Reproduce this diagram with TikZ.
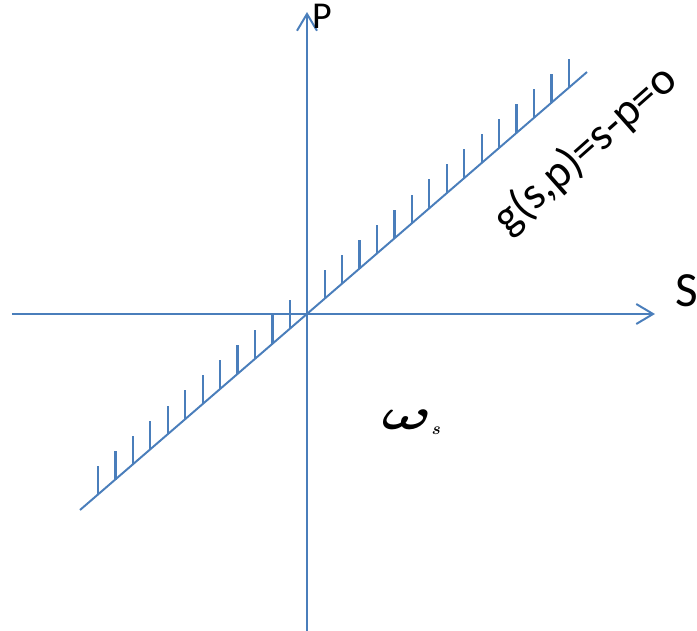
\documentclass[tikz,border=0pt]{standalone}
\usepackage{amsmath}
\usepackage{fontspec}
\setmainfont{Carlito}
\usepackage{graphicx}
\usepackage{tikz}
\usetikzlibrary{arrows.meta}
\definecolor{axisblue}{RGB}{74,126,187}
\tikzset{axis/.style={axisblue,line width=1.4pt},
  hatch/.style={axisblue,line width=1.6pt},
  axlabel/.style={inner sep=0pt,text=black}}

\begin{document}
\begin{tikzpicture}[>={Straight Barb[length=4.2mm,width=5mm]},line join=round]
\useasboundingbox (-7.675,-7.9) rectangle (9.75,7.85);
% --- axes S and P
\coordinate (sL) at (-7.375,0); \coordinate (sR) at (8.7,0);
\coordinate (pB) at (0,-7.95); \coordinate (pT) at (0,7.55);
\draw[axis,->] (sL) -- (sR);
\draw[axis,->] (pB) -- (pT);
\node[axlabel,anchor=base west,font=\fontsize{27}{28}\selectfont] (P) at (0.12,7.15) {P};
\node[axlabel,anchor=base west,font=\fontsize{35}{36}\selectfont] (S) at (9.2,0.2) {S};
% --- the line g(s,p)=0 with its hatching
\coordinate (gL) at (-5.675,-4.9); \coordinate (gR) at (7.0,6.05);
\draw[axis] (gL) -- (gR);
\foreach \k in {0,...,27} {
  \coordinate (h\k) at ({-5.225+0.436*\k},{0.864*(-5.225+0.436*\k)});
  \draw[hatch] (h\k) -- ++(0,0.72);
}
\node[axlabel,rotate=41.5,font=\fontsize{32.6}{34}\selectfont] (glabel) at (6.975,4.1) {g(s,p)=s-p=o};
% --- region
\node[axlabel,anchor=base west,font=\fontsize{24}{24}\selectfont] (omega) at (1.86,-2.875)
  {\scalebox{1.9}[1.25]{$\boldsymbol{\omega}$}$_{\boldsymbol{\scriptscriptstyle s}}$};
\end{tikzpicture}
\end{document}
